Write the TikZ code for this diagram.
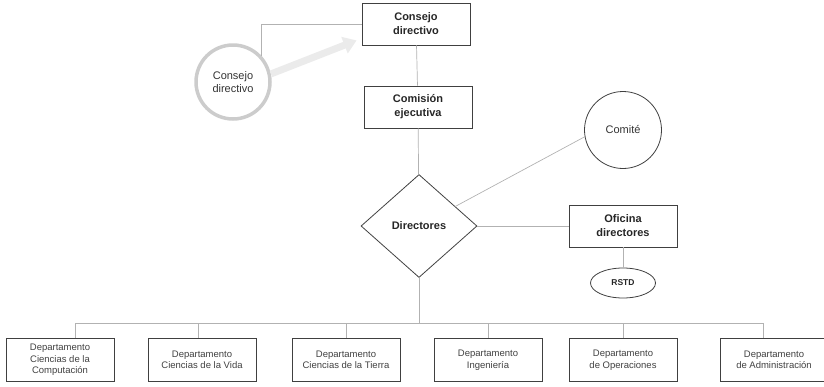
\documentclass[tikz,border=0pt]{standalone}
\usepackage{fontspec}
\setmainfont{Liberation Sans}
\usetikzlibrary{shapes.geometric,arrows.meta,positioning}
\tikzset{
    unit/.style={rectangle, draw=black!75, line width=0.8pt, text=black!85, minimum width=108pt, minimum height=42pt, align=center, font=\fontsize{11}{14}\selectfont\bfseries},
    dept/.style={rectangle, draw=black!75, line width=0.8pt, text=black!75, minimum width=108pt, minimum height=43pt, align=center, font=\fontsize{9.5}{11.5}\selectfont},
    link/.style={draw=black!30, line width=0.7pt},
    flow/.style={-{Triangle[length=13pt,width=17pt]}, draw=black!8, line width=7pt}
}

\begin{document}
\begin{tikzpicture}[
    x=1pt, y=-1pt,
    board/.style={circle, draw=black!20, line width=3.5pt, minimum size=74pt, text=black!80, align=center, font=\fontsize{11}{13}\selectfont},
    committee/.style={circle, draw=black!75, line width=0.8pt, minimum size=77pt, text=black!80, font=\fontsize{11}{13}\selectfont},
    head/.style={diamond, draw=black!75, line width=0.8pt, aspect=1.13, minimum width=116pt, minimum height=103pt, inner sep=0pt, text=black!85, font=\fontsize{11}{13}\selectfont\bfseries},
    tag/.style={ellipse, draw=black!75, line width=0.8pt, minimum width=65pt, minimum height=30pt, inner sep=0pt, text=black!85, font=\fontsize{8.5}{10}\selectfont\bfseries}
]
\useasboundingbox (0,0) rectangle (824,386);

% Top units
\node[unit] (cd1) at (416,24) {Consejo\\directivo};
\node[unit] (ce) at (418,107) {Comisión\\ejecutiva};
\node[board] (cd2) at (233,82) {Consejo\\directivo};
\node[head] (dir) at (419,226) {Directores};
\node[committee] (com) at (623,130) {Comité};
\node[unit] (ofi) at (623,226) {Oficina\\directores};
\node[tag] (rstd) at (623,283) {RSTD};

% Departments
\node[dept] (d1) at (60,360) {Departamento\\Ciencias de la\\Computación};
\node[dept] (d2) at (202,360) {Departamento\\Ciencias de la Vida};
\node[dept] (d3) at (346,360) {Departamento\\Ciencias de la Tierra};
\node[dept] (d4) at (488,360) {Departamento\\Ingeniería};
\node[dept] (d5) at (623,360) {Departamento\\de Operaciones};
\node[dept] (d6) at (774,360) {Departamento\\de Administración};

% Links
\draw[link] (cd2.42) |- (cd1.west);
\draw[flow] (cd2.12) -- ([xshift=-5pt,yshift=5pt]cd1.south west);
\draw[link] (cd1) -- (ce);
\draw[link] (ce) -- (dir);
\draw[link] (com.190) -- (dir);
\draw[link] (dir) -- (ofi);
\draw[link] (ofi) -- (rstd);
\draw[link] (dir.south) -- ++(0,45) coordinate (bus);
\foreach \d/\s in {d1/15,d2/-4,d3/0,d4/0,d5/0,d6/-11}
    \draw[link] (bus) -| ([xshift=\s pt]\d.north);

\end{tikzpicture}
\end{document}
